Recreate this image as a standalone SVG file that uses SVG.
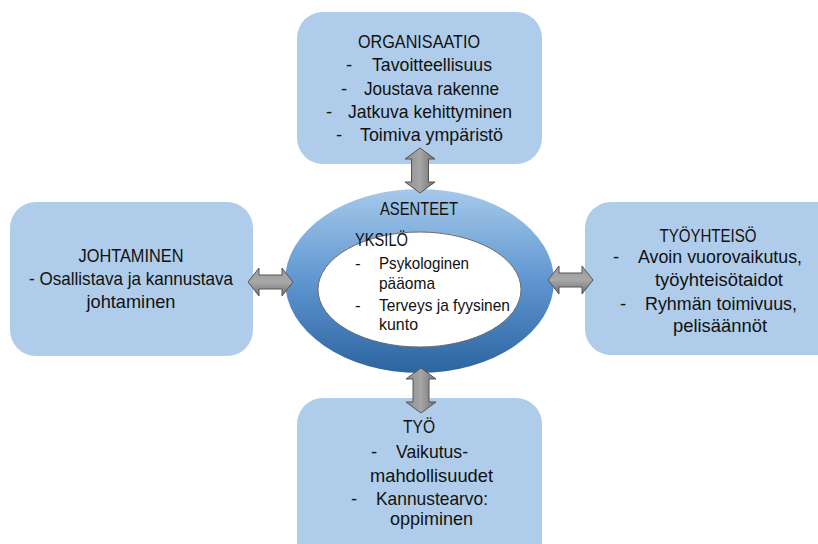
<svg xmlns="http://www.w3.org/2000/svg" width="818" height="544" viewBox="0 0 818 544">
  <defs>
    <linearGradient id="ringGrad" x1="0" y1="0" x2="0" y2="1">
      <stop offset="0" stop-color="#a6c9ea"/>
      <stop offset="0.5" stop-color="#5f96d0"/>
      <stop offset="1" stop-color="#2c64a0"/>
    </linearGradient>
    <linearGradient id="arrowGradV" x1="0" y1="0" x2="1" y2="0">
      <stop offset="0" stop-color="#8c8c8c"/>
      <stop offset="0.5" stop-color="#a6a6a6"/>
      <stop offset="1" stop-color="#6e6e6e"/>
    </linearGradient>
    <linearGradient id="arrowGradH" x1="0" y1="0" x2="0" y2="1">
      <stop offset="0" stop-color="#9a9a9a"/>
      <stop offset="0.5" stop-color="#a8a8a8"/>
      <stop offset="1" stop-color="#6e6e6e"/>
    </linearGradient>
  </defs>
  <style>
    .box { fill: #afcdea; }
    .t { font-family: "Liberation Sans", Arial, sans-serif; font-size: 18.5px; fill: #111111; }
    .c { text-anchor: middle; }
    .s { font-size: 17px; }
    .arrV { fill: url(#arrowGradV); stroke: #555555; stroke-width: 1; }
    .arrH { fill: url(#arrowGradH); stroke: #555555; stroke-width: 1; }
  </style>
  <rect width="818" height="544" fill="#ffffff"/>

  <!-- ORGANISAATIO -->
  <g id="organisaatio">
    <rect class="box" x="297" y="12" width="245" height="152" rx="26"/>
    <text class="t c" x="419" y="48" textLength="122" lengthAdjust="spacingAndGlyphs">ORGANISAATIO</text>
    <text class="t" x="346" y="71">-</text>
    <text class="t" x="372" y="71" textLength="120" lengthAdjust="spacingAndGlyphs">Tavoitteellisuus</text>
    <text class="t" x="341" y="94.5">-</text>
    <text class="t" x="364" y="94.5" textLength="135" lengthAdjust="spacingAndGlyphs">Joustava rakenne</text>
    <text class="t" x="326" y="118">-</text>
    <text class="t" x="348" y="118" textLength="164" lengthAdjust="spacingAndGlyphs">Jatkuva kehittyminen</text>
    <text class="t" x="336" y="141">-</text>
    <text class="t" x="360" y="141" textLength="143" lengthAdjust="spacingAndGlyphs">Toimiva ympäristö</text>
  </g>

  <!-- JOHTAMINEN -->
  <g id="johtaminen">
    <rect class="box" x="10" y="202" width="243" height="154" rx="26"/>
    <text class="t c" x="131" y="262" textLength="105" lengthAdjust="spacingAndGlyphs">JOHTAMINEN</text>
    <text class="t c" x="131" y="285" textLength="204" lengthAdjust="spacingAndGlyphs">- Osallistava ja kannustava</text>
    <text class="t c" x="131" y="308" textLength="89" lengthAdjust="spacingAndGlyphs">johtaminen</text>
  </g>

  <!-- TYÖYHTEISÖ -->
  <g id="tyoyhteiso">
    <rect class="box" x="585" y="202" width="260" height="153" rx="26"/>
    <text class="t c" x="708" y="242" textLength="97" lengthAdjust="spacingAndGlyphs">TYÖYHTEISÖ</text>
    <text class="t" x="613" y="263">-</text>
    <text class="t" x="638" y="263" textLength="164" lengthAdjust="spacingAndGlyphs">Avoin vuorovaikutus,</text>
    <text class="t" x="655" y="286" textLength="128" lengthAdjust="spacingAndGlyphs">työyhteisötaidot</text>
    <text class="t" x="620" y="310">-</text>
    <text class="t" x="645" y="310" textLength="152" lengthAdjust="spacingAndGlyphs">Ryhmän toimivuus,</text>
    <text class="t" x="673" y="332" textLength="94" lengthAdjust="spacingAndGlyphs">pelisäännöt</text>
  </g>

  <!-- TYÖ -->
  <g id="tyo">
    <rect class="box" x="297" y="398" width="245" height="170" rx="26"/>
    <text class="t" x="403" y="433" textLength="32" lengthAdjust="spacingAndGlyphs">TYÖ</text>
    <text class="t" x="371" y="458">-</text>
    <text class="t" x="396" y="458" textLength="72" lengthAdjust="spacingAndGlyphs">Vaikutus-</text>
    <text class="t" x="370" y="482" textLength="123" lengthAdjust="spacingAndGlyphs">mahdollisuudet</text>
    <text class="t" x="351" y="505">-</text>
    <text class="t" x="376" y="505" textLength="112" lengthAdjust="spacingAndGlyphs">Kannustearvo:</text>
    <text class="t" x="390" y="525" textLength="83" lengthAdjust="spacingAndGlyphs">oppiminen</text>
  </g>

  <!-- ASENTEET ring with YKSILÖ core -->
  <g id="asenteet">
    <ellipse cx="419.5" cy="281" rx="134.5" ry="92" fill="url(#ringGrad)"/>
    <text class="t c" x="419" y="215" font-size="19.5" textLength="78" lengthAdjust="spacingAndGlyphs">ASENTEET</text>
  </g>
  <g id="yksilo">
    <ellipse cx="419.5" cy="289.5" rx="101.5" ry="57.5" fill="#ffffff" stroke="#6b6b6b" stroke-width="1"/>
    <text class="t" x="355" y="246" font-size="19" textLength="53" lengthAdjust="spacingAndGlyphs">YKSILÖ</text>
    <text class="t s" x="355" y="269">-</text>
    <text class="t s" x="379" y="269" textLength="90" lengthAdjust="spacingAndGlyphs">Psykologinen</text>
    <text class="t s" x="379" y="289" textLength="56" lengthAdjust="spacingAndGlyphs">pääoma</text>
    <text class="t s" x="355" y="311">-</text>
    <text class="t s" x="379" y="311" textLength="131" lengthAdjust="spacingAndGlyphs">Terveys ja fyysinen</text>
    <text class="t s" x="379" y="330" textLength="39" lengthAdjust="spacingAndGlyphs">kunto</text>
  </g>

  <!-- two-way connectors -->
  <g id="connectors">
    <polygon class="arrV" points="420,148 435,159 428.5,159 428.5,182 435,182 420,193 405,182 411.5,182 411.5,159 405,159"/>
    <polygon class="arrV" points="421,368 436,379 429,379 429,402 436,402 421,413 406,402 413,402 413,379 406,379"/>
    <polygon class="arrH" points="248,282 259,268 259,275 282,275 282,268 293,282 282,296 282,289 259,289 259,296"/>
    <polygon class="arrH" points="548,280 559,266 559,273 582,273 582,266 593,280 582,294 582,287 559,287 559,294"/>
  </g>
</svg>
